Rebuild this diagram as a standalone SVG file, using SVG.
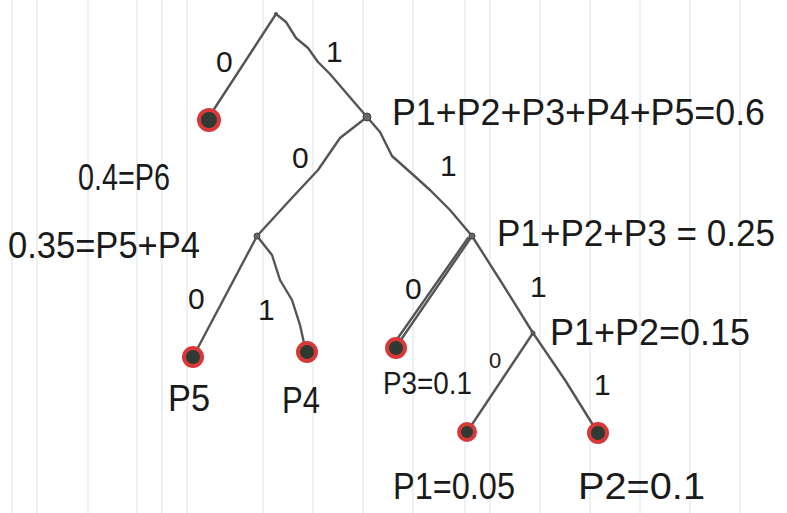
<svg xmlns="http://www.w3.org/2000/svg" width="787" height="513" viewBox="0 0 787 513">
<style>
.paper{stroke:#e9ecef;stroke-width:1.5}
.edge{stroke:#555;stroke-width:2.4;fill:none;stroke-linecap:round;stroke-linejoin:round}
.lbl{font-family:"Liberation Sans","DejaVu Sans",sans-serif;fill:#1a1a1a;font-size:36px}
.bit{font-family:"Liberation Sans","DejaVu Sans",sans-serif;fill:#1a1a1a;font-size:30px}
.ring{fill:#2f3a33;stroke:#d8383a;stroke-width:4}
.inner{fill:#666;stroke:#444;stroke-width:1}
</style>
<rect width="787" height="513" fill="#ffffff"/>
<g id="paper-lines">
<line class="paper" x1="12" y1="0" x2="12" y2="513"/>
<line class="paper" x1="37" y1="0" x2="37" y2="513"/>
<line class="paper" x1="88" y1="0" x2="88" y2="513"/>
<line class="paper" x1="137" y1="0" x2="137" y2="513"/>
<line class="paper" x1="162" y1="0" x2="162" y2="513"/>
<line class="paper" x1="187" y1="0" x2="187" y2="513"/>
<line class="paper" x1="263" y1="0" x2="263" y2="513"/>
<line class="paper" x1="313" y1="0" x2="313" y2="513"/>
<line class="paper" x1="363" y1="0" x2="363" y2="513"/>
<line class="paper" x1="413" y1="0" x2="413" y2="513"/>
<line class="paper" x1="465" y1="0" x2="465" y2="513"/>
<line class="paper" x1="490" y1="0" x2="490" y2="513"/>
<line class="paper" x1="540" y1="0" x2="540" y2="513"/>
<line class="paper" x1="590" y1="0" x2="590" y2="513"/>
<line class="paper" x1="640" y1="0" x2="640" y2="513"/>
<line class="paper" x1="690" y1="0" x2="690" y2="513"/>
<line class="paper" x1="740" y1="0" x2="740" y2="513"/>
</g>
<g id="connectors">
<path class="edge" d="M276,14 L207,120"/>
<path class="edge" d="M276,14 L286,22 L296,38 L308,48 L318,62 L330,74 L342,88 L354,102 L367,117"/>
<path class="edge" d="M367,117 L340,138 L318,170 L290,200 L257,236"/>
<path class="edge" d="M367,117 L380,132 L392,156 L410,172 L430,190 L450,210 L472,236"/>
<path class="edge" d="M257,236 L193,357"/>
<path class="edge" d="M257,236 L272,255 L280,280 L292,300 L300,325 L306,352"/>
<path class="edge" d="M472,236 L396,347"/>
<path class="edge" d="M468,238 L393,345"/>
<path class="edge" d="M472,236 L500,280 L533,333"/>
<path class="edge" d="M533,333 L467,432"/>
<path class="edge" d="M533,333 L565,380 L598,433"/>
</g>
<g id="edge-labels">
<text class="bit" x="216" y="72">0</text>
<text class="bit" x="326" y="62">1</text>
<text class="bit" x="292" y="168">0</text>
<text class="bit" x="440" y="176">1</text>
<text class="bit" x="188" y="309">0</text>
<text class="bit" x="258" y="320">1</text>
<text class="bit" x="405" y="299">0</text>
<text class="bit" x="530" y="297">1</text>
<text class="bit" x="489" y="368" style="font-size:22px">0</text>
<text class="bit" x="594" y="395">1</text>
</g>
<g id="root"><circle cx="276" cy="14" r="2" fill="#555"/></g>
<g id="leaf-p6"><circle class="ring" cx="209" cy="120" r="10"/><text class="lbl" x="78" y="190" textLength="92" lengthAdjust="spacingAndGlyphs">0.4=P6</text></g>
<g id="node-06"><circle class="inner" cx="367" cy="117" r="4"/><text class="lbl" x="392" y="125" textLength="373" lengthAdjust="spacingAndGlyphs">P1+P2+P3+P4+P5=0.6</text></g>
<g id="node-035"><circle class="inner" cx="257" cy="236" r="3"/><text class="lbl" x="8" y="258" textLength="192" lengthAdjust="spacingAndGlyphs">0.35=P5+P4</text></g>
<g id="node-025"><circle class="inner" cx="472" cy="236" r="3"/><text class="lbl" x="497" y="246" textLength="278" lengthAdjust="spacingAndGlyphs">P1+P2+P3 = 0.25</text></g>
<g id="leaf-p5"><circle class="ring" cx="193" cy="357" r="9"/><text class="lbl" x="168" y="411" textLength="42" lengthAdjust="spacingAndGlyphs">P5</text></g>
<g id="leaf-p4"><circle class="ring" cx="307" cy="352" r="9"/><text class="lbl" x="282" y="413" textLength="38" lengthAdjust="spacingAndGlyphs">P4</text></g>
<g id="leaf-p3"><circle class="ring" cx="396" cy="348" r="9"/><text class="lbl" x="383" y="394" style="font-size:31px" textLength="89" lengthAdjust="spacingAndGlyphs">P3=0.1</text></g>
<g id="node-015"><circle class="inner" cx="533" cy="333" r="2"/><text class="lbl" x="550" y="345" textLength="200" lengthAdjust="spacingAndGlyphs">P1+P2=0.15</text></g>
<g id="leaf-p1"><circle class="ring" cx="467" cy="432" r="8"/><text class="lbl" x="393" y="499" textLength="122" lengthAdjust="spacingAndGlyphs">P1=0.05</text></g>
<g id="leaf-p2"><circle class="ring" cx="598" cy="433" r="9"/><text class="lbl" x="578" y="499" textLength="127" lengthAdjust="spacingAndGlyphs">P2=0.1</text></g>
</svg>
